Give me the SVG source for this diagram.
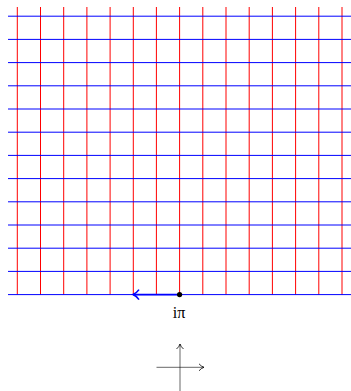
<svg xmlns="http://www.w3.org/2000/svg" width="351" height="391" viewBox="0 0 351 391">
<style>
.v{stroke:#ff0000;stroke-width:1;fill:none}
.h{stroke:#0000ff;stroke-width:1;fill:none}
.ax{stroke:#000;stroke-width:0.6;fill:none}
.lbl{font-family:"Liberation Serif",serif;font-size:16px;fill:#000}
</style>
<defs>
<marker id="ah" markerWidth="10" markerHeight="10" refX="8" refY="5" orient="auto" markerUnits="userSpaceOnUse">
<path d="M3,1.5 Q5,4 8,5 Q5,6 3,8.5" fill="none" stroke="#000" stroke-width="0.8"/>
</marker>
<marker id="bh" markerWidth="14" markerHeight="14" refX="11" refY="7" orient="auto" markerUnits="userSpaceOnUse">
<path d="M5,2 Q7.5,5.5 11,7 Q7.5,8.5 5,12" fill="none" stroke="#0000ff" stroke-width="1.6"/>
</marker>
</defs>
<g id="grid">
<g id="vertical">
<line class="v" x1="17.3" y1="7" x2="17.3" y2="294.7"/>
<line class="v" x1="40.5" y1="7" x2="40.5" y2="294.7"/>
<line class="v" x1="63.7" y1="7" x2="63.7" y2="294.7"/>
<line class="v" x1="86.9" y1="7" x2="86.9" y2="294.7"/>
<line class="v" x1="110.1" y1="7" x2="110.1" y2="294.7"/>
<line class="v" x1="133.3" y1="7" x2="133.3" y2="294.7"/>
<line class="v" x1="156.4" y1="7" x2="156.4" y2="294.7"/>
<line class="v" x1="179.6" y1="7" x2="179.6" y2="294.7"/>
<line class="v" x1="202.8" y1="7" x2="202.8" y2="294.7"/>
<line class="v" x1="226" y1="7" x2="226" y2="294.7"/>
<line class="v" x1="249.2" y1="7" x2="249.2" y2="294.7"/>
<line class="v" x1="272.4" y1="7" x2="272.4" y2="294.7"/>
<line class="v" x1="295.6" y1="7" x2="295.6" y2="294.7"/>
<line class="v" x1="318.8" y1="7" x2="318.8" y2="294.7"/>
<line class="v" x1="342" y1="7" x2="342" y2="294.7"/>
</g>
<g id="horizontal">
<line class="h" x1="8" y1="16.2" x2="351" y2="16.2"/>
<line class="h" x1="8" y1="39.4" x2="351" y2="39.4"/>
<line class="h" x1="8" y1="62.6" x2="351" y2="62.6"/>
<line class="h" x1="8" y1="85.8" x2="351" y2="85.8"/>
<line class="h" x1="8" y1="109" x2="351" y2="109"/>
<line class="h" x1="8" y1="132.2" x2="351" y2="132.2"/>
<line class="h" x1="8" y1="155.4" x2="351" y2="155.4"/>
<line class="h" x1="8" y1="178.6" x2="351" y2="178.6"/>
<line class="h" x1="8" y1="201.8" x2="351" y2="201.8"/>
<line class="h" x1="8" y1="225" x2="351" y2="225"/>
<line class="h" x1="8" y1="248.2" x2="351" y2="248.2"/>
<line class="h" x1="8" y1="271.4" x2="351" y2="271.4"/>
<line class="h" x1="8" y1="294.6" x2="351" y2="294.6"/>
</g>
</g>
<g id="connectors">
<line x1="179.6" y1="294.6" x2="133" y2="294.6" stroke="#0000ff" stroke-width="1.8" marker-end="url(#bh)"/>
<line class="ax" x1="180" y1="391" x2="180" y2="344" marker-end="url(#ah)"/>
<line class="ax" x1="156.5" y1="367.3" x2="204" y2="367.3" marker-end="url(#ah)"/>
</g>
<g id="point">
<circle cx="179.6" cy="294.6" r="2.6" fill="#000"/>
<text class="lbl" x="179" y="318" text-anchor="middle">iπ</text>
</g>
</svg>
